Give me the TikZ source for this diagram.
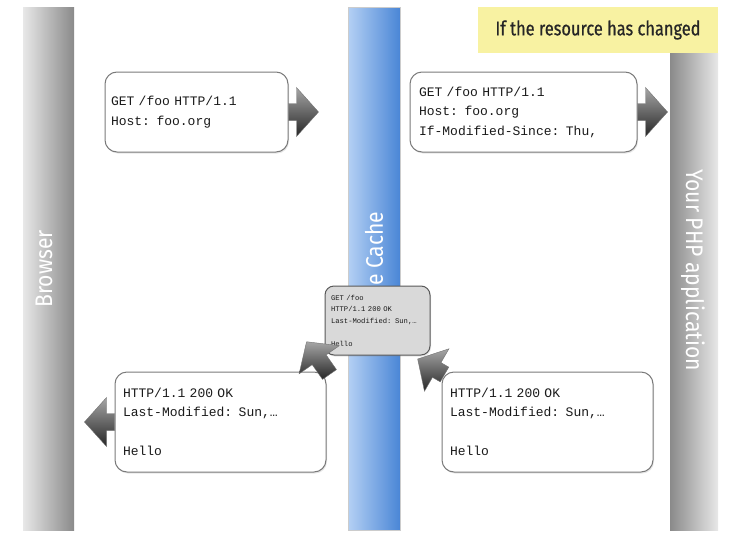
\documentclass[tikz,border=0pt]{standalone}
\usepackage{fontspec}
\newfontfamily\msgfont{Liberation Mono}
\newfontfamily\condfont[FakeStretch=0.88]{Fira Sans}
\newfontfamily\notefont[FakeStretch=0.82,FakeBold=0.6]{Fira Sans}
\usepackage{tikz}
\usetikzlibrary{calc,shadows}
\definecolor{hcblueL}{HTML}{B4D0F4}
\definecolor{hcblueD}{HTML}{4A86D6}
\definecolor{hcgreyL}{HTML}{E8E8E8}
\definecolor{hcgreyD}{HTML}{8A8A8A}
\definecolor{hcnote}{HTML}{F8F2A2}
\definecolor{hcink}{HTML}{1A1A1A}
\definecolor{hcedge}{HTML}{7A7A7A}
\tikzset{
  msg/.style={draw=hcedge,line width=1pt,fill=white,rounded corners=12pt,
              font=\msgfont\fontsize{13}{19.5}\selectfont,text=hcink,align=left,
              drop shadow={opacity=0.2,shadow xshift=1pt,shadow yshift=-1.5pt}},
  stored/.style={msg,fill=black!15,draw=black!65,rounded corners=9pt,
              font=\msgfont\fontsize{7.2}{11.5}\selectfont},
  lane/.style={inner sep=0pt,draw=none},
  lanelbl/.style={font=\condfont\fontsize{24}{24}\selectfont,text=white,inner sep=0pt},
  arrshade/.style={top color=black!35,bottom color=black!85,draw=black!55,line width=0.4pt},
  pics/blockarr/.style={code={
    \shade[arrshade] (0,-8.5) -- (#1-22,-8.5) -- (#1-22,-24.5) -- (#1,0)
      -- (#1-22,24.5) -- (#1-22,8.5) -- (0,8.5) -- cycle;}},
}

\begin{document}
\begin{tikzpicture}[x=1pt,y=-1pt]
  \useasboundingbox (0,0) rectangle (744,541);

  % lanes
  \node[lane,minimum width=51pt,minimum height=523pt,left color=hcgreyL,right color=hcgreyD] (browser) at (48.5,268.5) {};
  \node[lane,minimum width=52pt,minimum height=523pt,left color=hcblueL,right color=hcblueD,draw=black!20,line width=0.3pt] (cache) at (374,268.5) {};
  \node[lane,minimum width=48pt,minimum height=477pt,left color=hcgreyD,right color=hcgreyL] (app) at (694,291.5) {};

  \node[lanelbl,rotate=90] (browserlbl) at (44,269) {Browser};
  \node[lanelbl,rotate=90,anchor=west] (cachelbl) at (374,286) {e Cache};
  \node[lanelbl,rotate=-90] (applbl) at (693,270) {Your PHP application};

  \node[fill=hcnote,minimum width=240pt,minimum height=46pt,inner sep=0pt,
        font=\notefont\fontsize{20}{20}\selectfont,text=black!85] (cond) at (598,30) {If the resource has changed};

  % stored copy
  \node[stored,text width=93pt,inner xsep=6pt,minimum height=69pt] (copy) at (377.5,320.5)
    {GET /foo\\HTTP/1.1 200 OK\\Last-Modified: Sun,…\\[11.5pt]Hello};

  % requests
  \node[msg,text width=171pt,inner xsep=6pt,minimum height=80pt] (get) at (196.5,112)
    {GET /foo HTTP/1.1\\Host: foo.org};
  \node[msg,text width=209pt,inner xsep=9pt,minimum height=80pt] (getS) at (523.5,112)
    {GET /foo HTTP/1.1\\Host: foo.org\\If-Modified-Since: Thu,};

  % responses
  \node[msg,text width=195pt,inner xsep=8pt,minimum height=100pt] (resB) at (220.5,422)
    {HTTP/1.1 200 OK\\Last-Modified: Sun,…\\[19.5pt]Hello};
  \node[msg,text width=195pt,inner xsep=8pt,minimum height=100pt] (resS) at (547.5,422)
    {HTTP/1.1 200 OK\\Last-Modified: Sun,…\\[19.5pt]Hello};

  % block arrows
  \pic at (get.east) {blockarr=30};
  \pic at (getS.east) {blockarr=30};
  \pic[rotate=180] at (resB.west) {blockarr=30};
  \pic[rotate=125] at ([shift={(3,3)}]resB.north east) {blockarr=40};
  \pic[rotate=150] at ([shift={(3,3)}]resS.north west) {blockarr=31};
\end{tikzpicture}
\end{document}
